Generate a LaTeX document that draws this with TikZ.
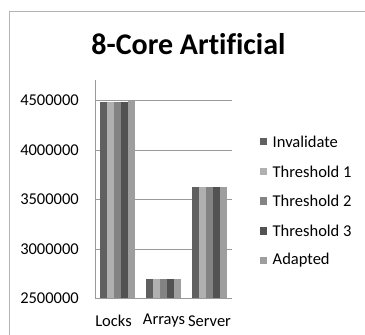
\documentclass[tikz,border=0pt]{standalone}
\usepackage{fontspec}
\setmainfont[Ligatures=NoCommon]{Carlito}
\definecolor{cInv}{HTML}{606060}
\definecolor{cTa}{HTML}{B0B0B0}
\definecolor{cTb}{HTML}{838383}
\definecolor{cTc}{HTML}{525252}
\definecolor{cAd}{HTML}{9E9E9E}
\definecolor{frameC}{HTML}{B4B4B4}
\definecolor{gridC}{HTML}{9A9A9A}
\tikzset{
  lbl/.style={font=\fontsize{16.5}{18}\selectfont, inner sep=0pt},
  ylbl/.style={lbl, anchor=east},
  legtxt/.style={lbl, anchor=west},
  legsq/.style={minimum size=7.5pt, inner sep=0pt, draw=none},
  gridln/.style={draw=gridC, line width=0.9pt},
}
\begin{document}
\begin{tikzpicture}[x=1pt,y=-1pt]
\useasboundingbox (0,0) rectangle (365,335);
\fill[white] (0,0) rectangle (365,335);
\begin{scope}
\clip (0,0) rectangle (365,335);
\draw[frameC, line width=1pt] (9,11) rectangle (380,350);
\end{scope}
\node[font=\bfseries\fontsize{30}{32}\selectfont, inner sep=0pt] (title) at (188.5,44) {8-Core Artificial};
% gridlines
\foreach \yy/\nm in {100/a,150/b,199/c,249/d}{
  \coordinate (gl\nm) at (95,\yy);
  \coordinate (gr\nm) at (232,\yy);
  \draw[gridln] (gl\nm) -- (gr\nm);
}
\coordinate (axtop) at (95,80);
\coordinate (axorig) at (95,298);
\coordinate (axright) at (232,298);
\draw[gridln] (axtop) -- (axorig) -- (axright);
% y labels
\node[ylbl] (y1) at (79,100) {4500000};
\node[ylbl] (y2) at (79,150) {4000000};
\node[ylbl] (y3) at (79,199) {3500000};
\node[ylbl] (y4) at (79,249) {3000000};
\node[ylbl] (y5) at (79,298) {2500000};
% bars
\foreach \x/\top in {100/101.5,145.7/279,191.7/186.7}{
  \fill[cInv] (\x,\top) rectangle ++(7,297.5-\top);
  \fill[cTa] (\x+7,\top) rectangle ++(7,297.5-\top);
  \fill[cTb] (\x+14,\top) rectangle ++(7,297.5-\top);
  \fill[cTc] (\x+21,\top) rectangle ++(7,297.5-\top);
}
\fill[cAd] (128,100.5) rectangle (135,297.5);
\fill[cAd] (173.7,279) rectangle (180.7,297.5);
\fill[cAd] (219.7,186.7) rectangle (226.7,297.5);
% category labels
\node[lbl] (cl) at (113.5,321) {Locks};
\node[lbl] (ca) at (164,321) {Arrays};
\node[lbl] (cs) at (209.5,321) {Server};
% legend
\foreach \yy/\cc/\tt/\nm in {141.7/cInv/Invalidate/a,171.4/cTa/Threshold 1/b,201.1/cTb/Threshold 2/c,230.8/cTc/Threshold 3/d,260.5/cAd/Adapted/e}{
  \node[legsq, fill=\cc] (sq\nm) at (263.7,\yy) {};
  \node[legtxt] (lt\nm) at (272.5,\yy) {\tt};
}
\end{tikzpicture}
\end{document}
